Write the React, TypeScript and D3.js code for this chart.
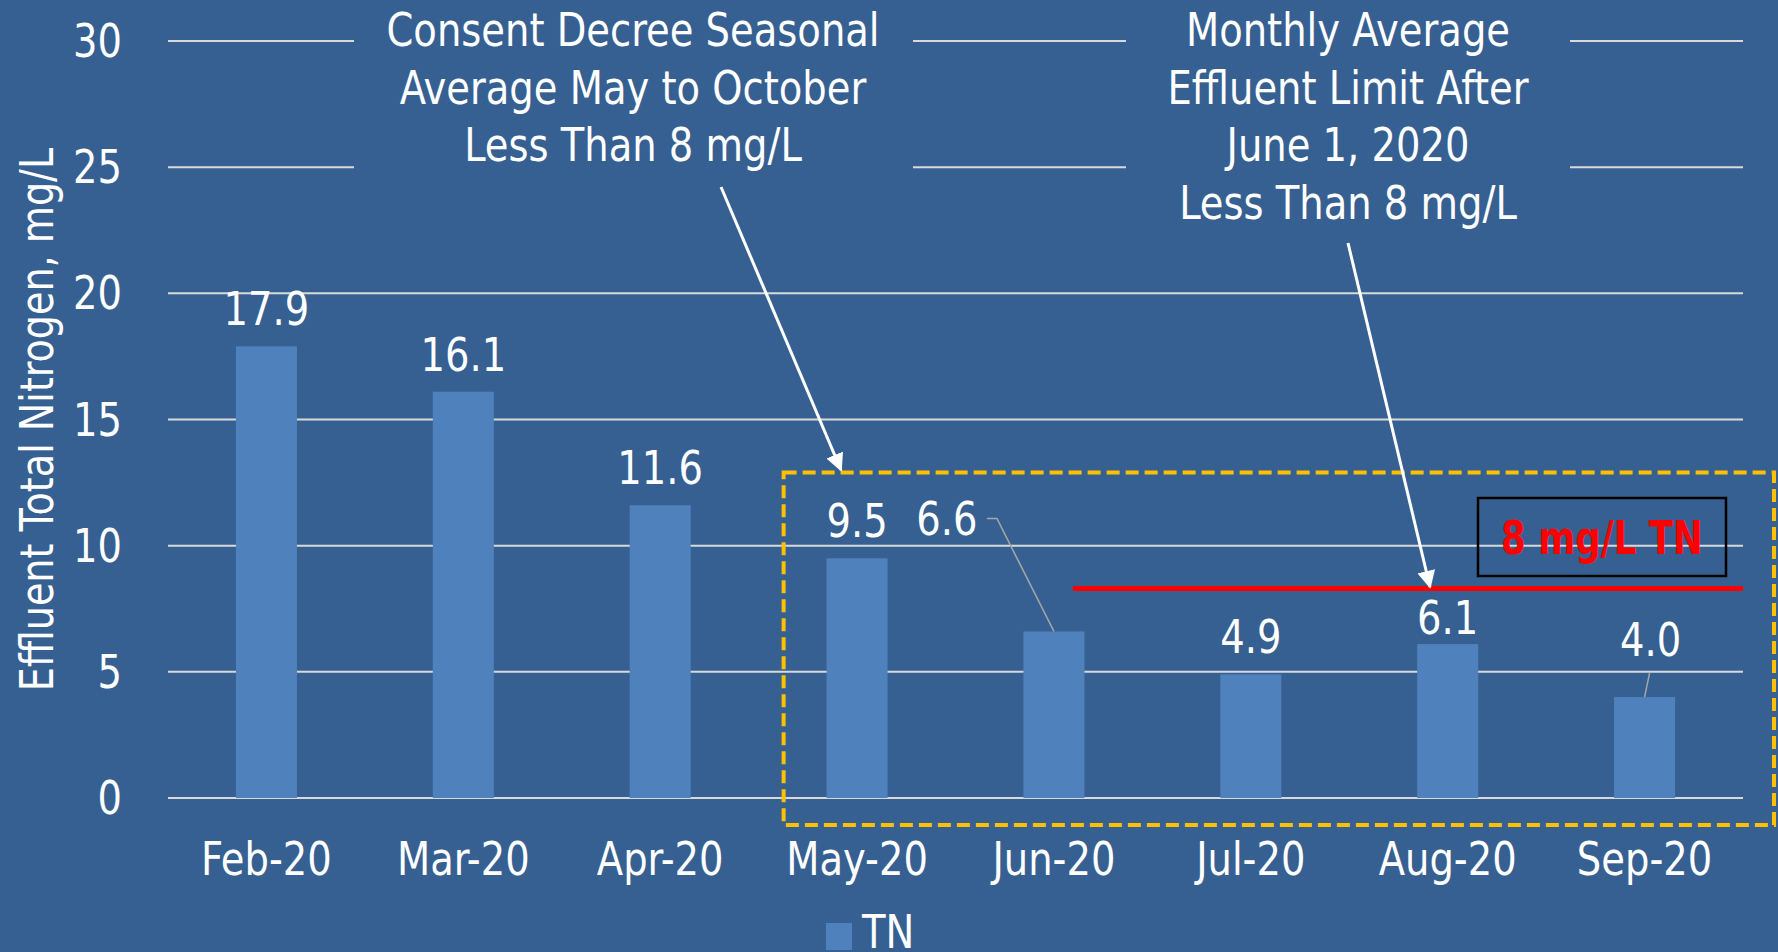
import React, { useEffect, useRef } from 'react'
import * as d3 from 'd3'

const months = ['Feb-20', 'Mar-20', 'Apr-20', 'May-20', 'Jun-20', 'Jul-20', 'Aug-20', 'Sep-20']
const tnValues = [17.9, 16.1, 11.6, 9.5, 6.6, 4.9, 6.1, 4.0]
const yTicks = [0, 5, 10, 15, 20, 25, 30]
const seriesName = 'TN'
const yTitle = 'Effluent Total Nitrogen, mg/L'
const noteLeft = ['Consent Decree Seasonal', 'Average May to October', 'Less Than 8 mg/L']
const noteRight = ['Monthly Average', 'Effluent Limit After', 'June 1, 2020', 'Less Than 8 mg/L']
const limitLabel = '8 mg/L TN'
const limitLineValue = 8.3

const FONT = "'DejaVu Sans Condensed', 'DejaVu Sans', sans-serif"
const BG = '#366092'
const BAR = '#4F81BD'
const GRID = '#D9D9D9'
const SQUEEZE = 0.93 // narrow the glyphs a bit, the original face is condensed

// label nudges (dx, dy from default spot above bar)
const labelNudge: Record<string, [number, number]> = {
	'Jun-20': [-107, -75],
	'Aug-20': [0, 11],
	'Sep-20': [6, -20]
}

const App = () => {
	const ref = useRef<SVGSVGElement>(null)

	const width = 1778
	const height = 952
	const plotLeft = 168
	const plotRight = 1743
	const plotTop = 41
	const plotBottom = 798

	useEffect(() => {
		if (!ref.current) return
		const svg = d3.select(ref.current)
		svg.selectAll('*').remove()

		const x = d3.scaleBand().domain(months).range([plotLeft, plotRight]).padding(0)
		const y = d3.scaleLinear().domain([0, 30]).range([plotBottom, plotTop])
		const step = x.step()
		const barW = step * 0.31
		const cx = (m: string) => (x(m) as number) + step / 2
		const at = (px: number, py: number, sx = SQUEEZE) =>
			`translate(${px},${py}) scale(${sx},1)`

		svg.append('rect').attr('width', width).attr('height', height).attr('fill', BG)

		// gridlines
		svg
			.append('g')
			.selectAll('line')
			.data(yTicks)
			.join('line')
			.attr('x1', plotLeft)
			.attr('x2', plotRight)
			.attr('y1', d => y(d))
			.attr('y2', d => y(d))
			.attr('stroke', GRID)
			.attr('stroke-width', 2)

		// y tick labels
		svg
			.append('g')
			.selectAll('text')
			.data(yTicks)
			.join('text')
			.attr('transform', d => at(122, y(d) + 16))
			.attr('text-anchor', 'end')
			.attr('fill', '#fff')
			.attr('font-family', FONT)
			.attr('font-size', 46)
			.text(d => d)

		// y title
		svg
			.append('text')
			.attr(
				'transform',
				`translate(53, ${(plotTop + plotBottom) / 2}) rotate(-90) scale(${SQUEEZE * 0.99},1)`
			)
			.attr('text-anchor', 'middle')
			.attr('fill', '#fff')
			.attr('font-family', FONT)
			.attr('font-size', 46)
			.text(yTitle)

		// annotation text boxes (cover gridlines)
		const notes = [
			{ lines: noteLeft, cx: 633, x0: 354, x1: 913, h: 178 },
			{ lines: noteRight, cx: 1348, x0: 1126, x1: 1570, h: 236 }
		]
		notes.forEach(n => {
			svg
				.append('rect')
				.attr('x', n.x0)
				.attr('y', 0)
				.attr('width', n.x1 - n.x0)
				.attr('height', n.h)
				.attr('fill', BG)
			svg
				.append('g')
				.selectAll('text')
				.data(n.lines)
				.join('text')
				.attr('transform', (d, i) => at(n.cx, 46 + i * 57.5))
				.attr('text-anchor', 'middle')
				.attr('fill', '#fff')
				.attr('font-family', FONT)
				.attr('font-size', 46)
				.text(d => d)
		})

		// bars
		svg
			.append('g')
			.selectAll('rect')
			.data(months)
			.join('rect')
			.attr('x', m => cx(m) - barW / 2)
			.attr('width', barW)
			.attr('y', (m, i) => y(tnValues[i]))
			.attr('height', (m, i) => y(0) - y(tnValues[i]))
			.attr('fill', BAR)

		// x labels
		svg
			.append('g')
			.selectAll('text')
			.data(months)
			.join('text')
			.attr('transform', m => at(cx(m), 875))
			.attr('text-anchor', 'middle')
			.attr('fill', '#fff')
			.attr('font-family', FONT)
			.attr('font-size', 46)
			.text(m => m)

		// data labels
		const labelPos = (m: string, i: number): [number, number] => {
			const [dx, dy] = labelNudge[m] || [0, 0]
			return [cx(m) + dx, y(tnValues[i]) - 21 + dy]
		}
		svg
			.append('g')
			.selectAll('text')
			.data(months)
			.join('text')
			.attr('transform', (m, i) => {
				const [lx, ly] = labelPos(m, i)
				return at(lx, ly)
			})
			.attr('text-anchor', 'middle')
			.attr('fill', '#fff')
			.attr('font-family', FONT)
			.attr('font-size', 46)
			.text((m, i) => tnValues[i].toFixed(1))

		// leader lines
		const jun = months.indexOf('Jun-20')
		const [jx, jy] = labelPos('Jun-20', jun)
		svg
			.append('polyline')
			.attr('points', `${jx + 40},${jy - 17} ${jx + 50},${jy - 17} ${cx('Jun-20')},${y(tnValues[jun])}`)
			.attr('fill', 'none')
			.attr('stroke', '#A6A6A6')
			.attr('stroke-width', 1.5)
		const sep = months.indexOf('Sep-20')
		const [sx, sy] = labelPos('Sep-20', sep)
		svg
			.append('line')
			.attr('x1', sx - 1)
			.attr('y1', sy + 17)
			.attr('x2', cx('Sep-20'))
			.attr('y2', y(tnValues[sep]))
			.attr('stroke', '#A6A6A6')
			.attr('stroke-width', 1.5)

		// dashed seasonal box
		const boxL = (x('May-20') as number) + 25
		const boxR = plotRight + 31
		svg
			.append('rect')
			.attr('x', boxL)
			.attr('y', y(12.9))
			.attr('width', boxR - boxL)
			.attr('height', y(-1.07) - y(12.9))
			.attr('fill', 'none')
			.attr('stroke', '#FFC000')
			.attr('stroke-width', 4)
			.attr('stroke-dasharray', '13 6')

		// red limit line
		svg
			.append('line')
			.attr('x1', cx('Jun-20') + 19)
			.attr('x2', plotRight)
			.attr('y1', y(limitLineValue))
			.attr('y2', y(limitLineValue))
			.attr('stroke', '#FF0000')
			.attr('stroke-width', 5)

		// limit label box
		svg
			.append('rect')
			.attr('x', 1478)
			.attr('y', 498)
			.attr('width', 248)
			.attr('height', 78)
			.attr('fill', 'none')
			.attr('stroke', '#000')
			.attr('stroke-width', 2.5)
		svg
			.append('text')
			.attr('transform', at(1602, 554, 0.86))
			.attr('text-anchor', 'middle')
			.attr('fill', '#FF0000')
			.attr('font-family', FONT)
			.attr('font-weight', 'bold')
			.attr('font-size', 46)
			.text(limitLabel)

		// arrows
		svg
			.append('defs')
			.append('marker')
			.attr('id', 'arrowhead')
			.attr('viewBox', '0 0 10 10')
			.attr('refX', 9)
			.attr('refY', 5)
			.attr('markerWidth', 6)
			.attr('markerHeight', 6)
			.attr('markerUnits', 'strokeWidth')
			.attr('orient', 'auto')
			.append('path')
			.attr('d', 'M0,0 L10,5 L0,10 z')
			.attr('fill', '#fff')
		const arrows = [
			[721, 187, 841, 470],
			[1348, 243, 1430, 587]
		]
		svg
			.append('g')
			.selectAll('line')
			.data(arrows)
			.join('line')
			.attr('x1', d => d[0])
			.attr('y1', d => d[1])
			.attr('x2', d => d[2])
			.attr('y2', d => d[3])
			.attr('stroke', '#fff')
			.attr('stroke-width', 3)
			.attr('marker-end', 'url(#arrowhead)')

		// legend
		svg
			.append('rect')
			.attr('x', 826)
			.attr('y', 923)
			.attr('width', 26)
			.attr('height', 27)
			.attr('fill', BAR)
		svg
			.append('text')
			.attr('transform', at(862, 948))
			.attr('fill', '#fff')
			.attr('font-family', FONT)
			.attr('font-size', 46)
			.text(seriesName)
	}, [])

	return (
		<div style={{ position: 'fixed', left: 0, top: 0 }}>
			<svg width={width} height={height} ref={ref} style={{ display: 'block' }}></svg>
		</div>
	)
}

export default App
